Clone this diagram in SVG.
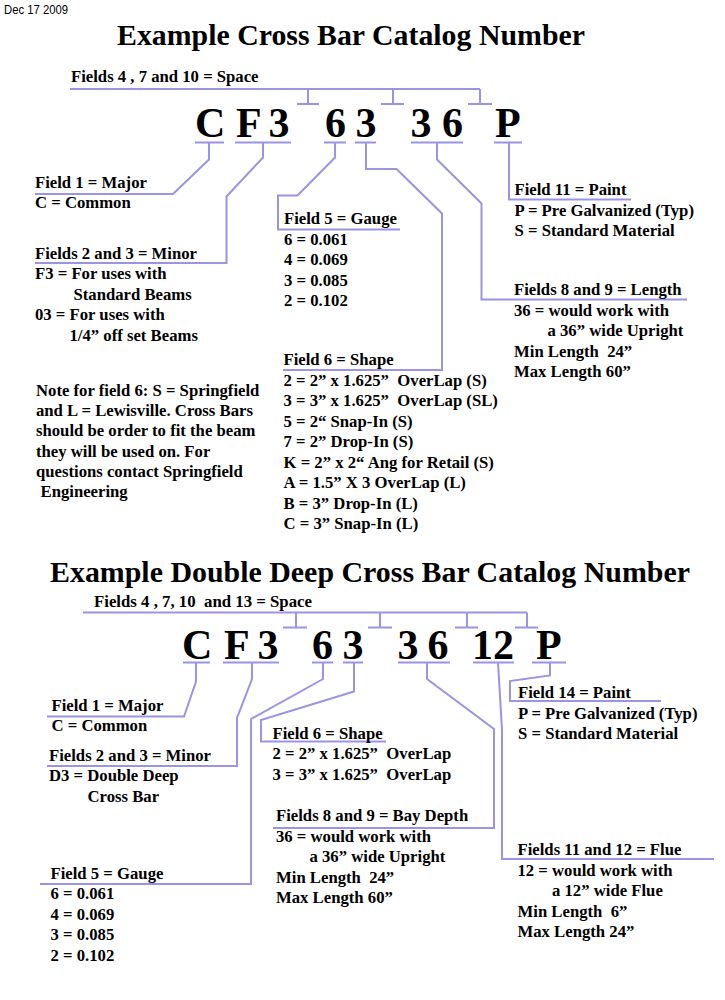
<svg xmlns="http://www.w3.org/2000/svg" width="725" height="1000" viewBox="0 0 725 1000">
<style>
.t{font-family:"Liberation Serif","Times New Roman",serif;font-weight:bold;font-size:16.7px;fill:#000;white-space:pre}
.big{font-size:42px}
.title{font-size:30px}
.date{font-family:"Liberation Sans",Arial,sans-serif;font-size:12px;fill:#000}
.c{fill:none;stroke:#9b93e6;stroke-width:2}
</style>
<rect width="725" height="1000" fill="#fff"/>
<text class="date" x="4" y="14" textLength="64" lengthAdjust="spacingAndGlyphs">Dec 17 2009</text>

<g id="connectors" class="c">
<!-- top example -->
<path d="M70,89 H480 M308,89 V104 M393,89 V104 M480,89 V104 M297,104 H319 M381,104 H404 M468,104 H492"/>
<path d="M195,142.5 H224 M235,142.5 H291 M324,142.5 H346 M355,142.5 H376 M411,142.5 H463 M494,142.5 H522"/>
<path d="M209,142.5 V159.5 L173,194 H35"/>
<path d="M263,142.5 V157.5 L226.5,196.5 V263 H35"/>
<path d="M335,142.5 V157.5 L297.5,195.5 H278 V229.5 H400"/>
<path d="M366,142.5 V169 H396.5 L442,213.5 V370 H283"/>
<path d="M437,142.5 V159.5 L481.5,203.5 V299.5 H687"/>
<path d="M509,142.5 V199.5 H631"/>
<!-- bottom example -->
<path d="M83,612.5 H527 M296,612.5 V627.5 M380,612.5 V627.5 M467,612.5 V627.5 M527,612.5 V627.5 M283,627.5 H307 M368,627.5 H392 M455,627.5 H478 M515,627.5 H538"/>
<path d="M183,662.5 H210 M223,662.5 H279 M312,662.5 H333 M343,662.5 H363 M398,662.5 H450 M473,662.5 H514 M532,662.5 H566"/>
<path d="M196,662.5 V681.5 L184,716.5 H47"/>
<path d="M252,662.5 V679 L237,718 V766 H47"/>
<path d="M323,662.5 V679 L251,719 V884 H40"/>
<path d="M354,662.5 V691.5 L261,720 V741.5 H386"/>
<path d="M427,662.5 V679 L494,729 V828 H273"/>
<path d="M498,662.5 L502,730 V859 H714"/>
<path d="M550,662.5 V675.5 L510,681 V701 H661"/>
</g>

<g id="title-top"><text class="t title" x="117" y="45" textLength="468" lengthAdjust="spacingAndGlyphs">Example Cross Bar Catalog Number</text></g>
<g id="space-top"><text class="t" x="71" y="82">Fields 4 , 7 and 10 = Space</text></g>
<g id="code-top" class="t big">
<text class="t big" x="195" y="137">C</text>
<text class="t big" x="236" y="137">F</text>
<text class="t big" x="268.5" y="137">3</text>
<text class="t big" x="325" y="137">6</text>
<text class="t big" x="355.5" y="137">3</text>
<text class="t big" x="410.5" y="137">3</text>
<text class="t big" x="442" y="137">6</text>
<text class="t big" x="495" y="137">P</text>
</g>
<g id="field1-top">
<text class="t" x="35" y="187.5">Field 1 = Major</text>
<text class="t" x="35" y="208">C = Common</text>
</g>
<g id="field23-top">
<text class="t" x="35" y="258.5">Fields 2 and 3 = Minor</text>
<text class="t" x="35" y="279">F3 = For uses with</text>
<text class="t" x="73.5" y="299.5">Standard Beams</text>
<text class="t" x="35" y="320">03 = For uses with</text>
<text class="t" x="69.5" y="340.5">1/4” off set Beams</text>
</g>
<g id="field5-top">
<text class="t" x="284" y="224">Field 5 = Gauge</text>
<text class="t" x="284" y="244.5">6 = 0.061</text>
<text class="t" x="284" y="265">4 = 0.069</text>
<text class="t" x="284" y="285.5">3 = 0.085</text>
<text class="t" x="284" y="306">2 = 0.102</text>
</g>
<g id="field6-top">
<text class="t" x="283.5" y="365">Field 6 = Shape</text>
<text class="t" x="283.5" y="385.5">2 = 2” x 1.625”  OverLap (S)</text>
<text class="t" x="283.5" y="406">3 = 3” x 1.625”  OverLap (SL)</text>
<text class="t" x="283.5" y="426.5">5 = 2“ Snap-In (S)</text>
<text class="t" x="283.5" y="447">7 = 2” Drop-In (S)</text>
<text class="t" x="283.5" y="467.5">K = 2” x 2“ Ang for Retail (S)</text>
<text class="t" x="283.5" y="488">A = 1.5” X 3 OverLap (L)</text>
<text class="t" x="283.5" y="508.5">B = 3” Drop-In (L)</text>
<text class="t" x="283.5" y="529">C = 3” Snap-In (L)</text>
</g>
<g id="note">
<text class="t" x="36" y="396">Note for field 6: S = Springfield</text>
<text class="t" x="36" y="416.2">and L = Lewisville. Cross Bars</text>
<text class="t" x="36" y="436.4">should be order to fit the beam</text>
<text class="t" x="36" y="456.6">they will be used on. For</text>
<text class="t" x="36" y="476.8">questions contact Springfield</text>
<text class="t" x="40.5" y="497">Engineering</text>
</g>
<g id="field11-top">
<text class="t" x="514.5" y="195">Field 11 = Paint</text>
<text class="t" x="514.5" y="215.5">P = Pre Galvanized (Typ)</text>
<text class="t" x="514.5" y="236">S = Standard Material</text>
</g>
<g id="field89-top">
<text class="t" x="514" y="295">Fields 8 and 9 = Length</text>
<text class="t" x="514" y="315.5">36 = would work with</text>
<text class="t" x="547.5" y="336">a 36” wide Upright</text>
<text class="t" x="514" y="356.5">Min Length  24”</text>
<text class="t" x="514" y="377">Max Length 60”</text>
</g>

<g id="title-bottom"><text class="t title" x="50" y="582" textLength="640" lengthAdjust="spacingAndGlyphs">Example Double Deep Cross Bar Catalog Number</text></g>
<g id="space-bottom"><text class="t" x="94" y="607" textLength="218" lengthAdjust="spacingAndGlyphs">Fields 4 , 7, 10  and 13 = Space</text></g>
<g id="code-bottom">
<text class="t big" x="182" y="659">C</text>
<text class="t big" x="224" y="659">F</text>
<text class="t big" x="257.5" y="659">3</text>
<text class="t big" x="312" y="659">6</text>
<text class="t big" x="342.5" y="659">3</text>
<text class="t big" x="397.5" y="659">3</text>
<text class="t big" x="427.5" y="659">6</text>
<text class="t big" x="472" y="659">12</text>
<text class="t big" x="536" y="659">P</text>
</g>
<g id="field1-bottom">
<text class="t" x="51.5" y="711">Field 1 = Major</text>
<text class="t" x="51.5" y="731">C = Common</text>
</g>
<g id="field23-bottom">
<text class="t" x="49" y="760.5">Fields 2 and 3 = Minor</text>
<text class="t" x="49" y="781">D3 = Double Deep</text>
<text class="t" x="87.5" y="801.5">Cross Bar</text>
</g>
<g id="field5-bottom">
<text class="t" x="50.5" y="878.5">Field 5 = Gauge</text>
<text class="t" x="50.5" y="899">6 = 0.061</text>
<text class="t" x="50.5" y="919.5">4 = 0.069</text>
<text class="t" x="50.5" y="940">3 = 0.085</text>
<text class="t" x="50.5" y="960.5">2 = 0.102</text>
</g>
<g id="field6-bottom">
<text class="t" x="272.5" y="738.5">Field 6 = Shape</text>
<text class="t" x="272.5" y="759">2 = 2” x 1.625”  OverLap</text>
<text class="t" x="272.5" y="779.5">3 = 3” x 1.625”  OverLap</text>
</g>
<g id="field89-bottom">
<text class="t" x="276" y="821">Fields 8 and 9 = Bay Depth</text>
<text class="t" x="276" y="841.5">36 = would work with</text>
<text class="t" x="309.5" y="862">a 36” wide Upright</text>
<text class="t" x="276" y="882.5">Min Length  24”</text>
<text class="t" x="276" y="903">Max Length 60”</text>
</g>
<g id="field14-bottom">
<text class="t" x="518" y="698">Field 14 = Paint</text>
<text class="t" x="518" y="718.5">P = Pre Galvanized (Typ)</text>
<text class="t" x="518" y="739">S = Standard Material</text>
</g>
<g id="field1112-bottom">
<text class="t" x="517.5" y="855">Fields 11 and 12 = Flue</text>
<text class="t" x="517.5" y="875.5">12 = would work with</text>
<text class="t" x="552" y="896">a 12” wide Flue</text>
<text class="t" x="517.5" y="916.5">Min Length  6”</text>
<text class="t" x="517.5" y="937">Max Length 24”</text>
</g>
</svg>
